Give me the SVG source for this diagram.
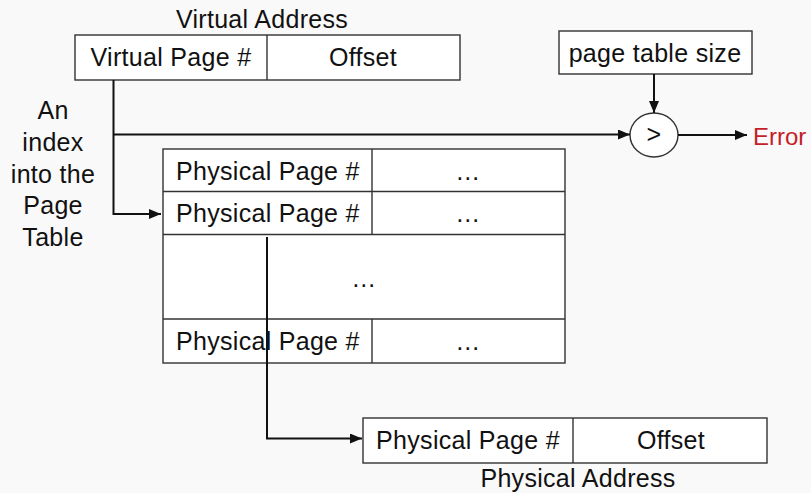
<svg xmlns="http://www.w3.org/2000/svg" width="811" height="493" viewBox="0 0 811 493">
<style>
text{font-family:"Liberation Sans",Arial,sans-serif;font-size:25px;letter-spacing:0.3px;fill:#111}
.m{text-anchor:middle}
.box{fill:#fff;stroke:#333;stroke-width:1.4}
.ln{fill:none;stroke:#111;stroke-width:2}
.err{fill:#c41e2a;letter-spacing:0;font-size:24px}
</style>
<defs>
<marker id="ah" viewBox="0 0 12 10" refX="12" refY="5" markerWidth="12" markerHeight="10" markerUnits="userSpaceOnUse" orient="auto">
<path d="M0,0 L12,5 L0,10 z" fill="#111"/>
</marker>
</defs>
<rect width="811" height="493" fill="#f9f9f9"/>

<g id="virtual-address">
<text class="m" x="262" y="28">Virtual Address</text>
<rect class="box" x="75" y="35" width="385" height="45"/>
<line class="box" x1="267" y1="35" x2="267" y2="80"/>
<text class="m" x="171" y="66">Virtual Page #</text>
<text class="m" x="363" y="66">Offset</text>
</g>

<g id="index-label">
<text class="m" x="53" y="119">An</text>
<text class="m" x="53" y="151">index</text>
<text class="m" x="53" y="183">into the</text>
<text class="m" x="53" y="214">Page</text>
<text class="m" x="53" y="246">Table</text>
</g>

<g id="page-table-size">
<rect class="box" x="559" y="31" width="193" height="43"/>
<text class="m" x="655" y="62">page table size</text>
</g>

<g id="compare">
<ellipse class="box" cx="654" cy="135" rx="24" ry="22"/>
<text class="m" x="654" y="143">&gt;</text>
</g>

<g id="error">
<text class="err" x="753" y="145">Error</text>
</g>

<g id="page-table">
<rect class="box" x="163" y="149" width="402" height="214"/>
<line class="box" x1="163" y1="191.5" x2="565" y2="191.5"/>
<line class="box" x1="163" y1="234.5" x2="565" y2="234.5"/>
<line class="box" x1="163" y1="319" x2="565" y2="319"/>
<line class="box" x1="372" y1="149" x2="372" y2="234.5"/>
<line class="box" x1="372" y1="319" x2="372" y2="363"/>
<text x="176" y="180">Physical Page #</text>
<text x="176" y="222">Physical Page #</text>
<text x="176" y="350">Physical Page #</text>
<text class="m" x="468" y="180">…</text>
<text class="m" x="468" y="222">…</text>
<text class="m" x="364" y="287">…</text>
<text class="m" x="468" y="350">…</text>
</g>

<g id="physical-address">
<rect class="box" x="363" y="418" width="404" height="45"/>
<line class="box" x1="573" y1="418" x2="573" y2="463"/>
<text class="m" x="468" y="449">Physical Page #</text>
<text class="m" x="671" y="449">Offset</text>
<text class="m" x="578" y="487">Physical Address</text>
</g>

<g id="connectors">
<path class="ln" d="M113.5,80 V214 H161" marker-end="url(#ah)"/>
<path class="ln" d="M113.5,134.5 H630" marker-end="url(#ah)"/>
<path class="ln" d="M654,74 V113" marker-end="url(#ah)"/>
<path class="ln" d="M678,135 H747" marker-end="url(#ah)"/>
<path class="ln" d="M267,237 V438.5 H362" marker-end="url(#ah)"/>
</g>
</svg>
